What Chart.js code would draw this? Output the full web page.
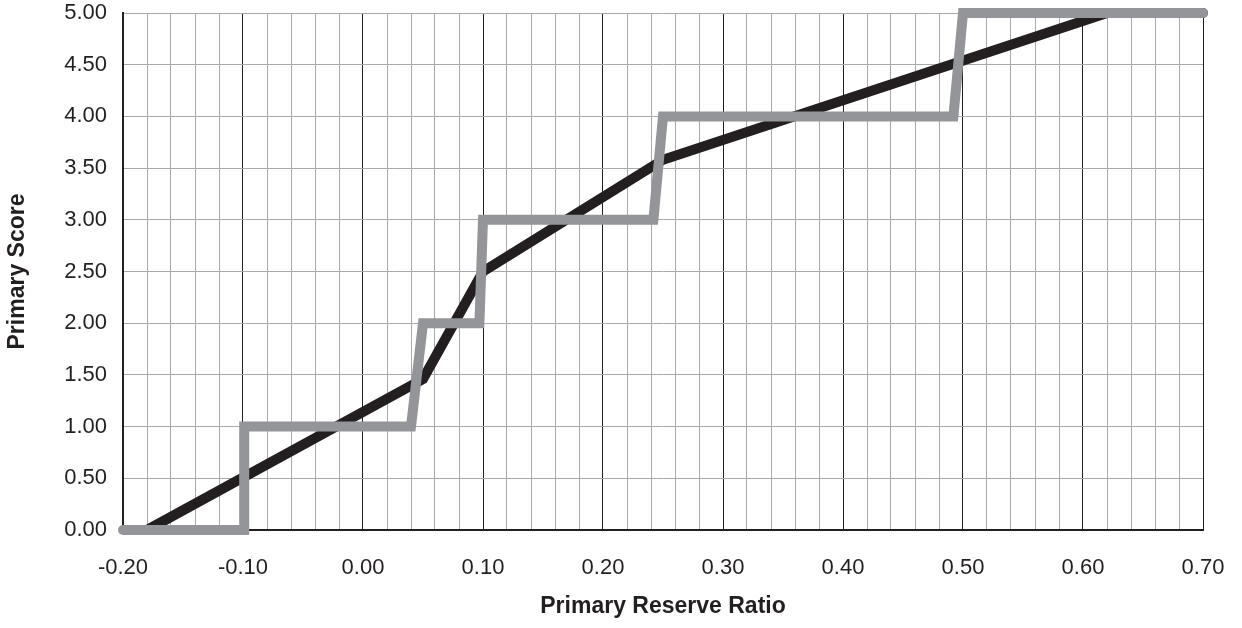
<!DOCTYPE html>
<html>
<head>
<meta charset="utf-8">
<script src="https://cdn.jsdelivr.net/npm/chart.js@4/dist/chart.umd.min.js"></script>
<style>
  html, body { margin: 0; padding: 0; background: #ffffff; }
  #wrap { width: 1242px; height: 628px; position: relative; }
</style>
</head>
<body>
<div id="wrap"><canvas id="c" width="1242" height="628"></canvas></div>
<script>
// Data
const scoreCurveX = [-0.18, 0.05, 0.10, 0.25, 0.62, 0.70];
const scoreCurveY = [0, 1.46, 2.5, 3.58, 5.0, 5.0];

const stepX = [-0.2, -0.099, -0.099, 0.04, 0.05, 0.097, 0.10, 0.242, 0.25, 0.492, 0.50, 0.70];
const stepY = [0, 0, 1, 1, 2, 2, 3, 3, 4, 4, 5, 5];

const xMin = -0.2, xMax = 0.7, xStep = 0.02;
const yMin = 0, yMax = 5, yStep = 0.5;

const xTitle = 'Primary Reserve Ratio';
const yTitle = 'Primary Score';

const toPts = (xs, ys) => xs.map((x, i) => ({ x: x, y: ys[i] }));

const DARK = '#231f20';
const GRID = '#a7a9ac';
const isMajor = v => Math.abs(v * 10 - Math.round(v * 10)) < 1e-6;

new Chart(document.getElementById('c'), {
  type: 'line',
  data: {
    datasets: [
      {
        data: toPts(stepX, stepY),
        borderColor: '#939598',
        borderWidth: 10,
        borderCapStyle: 'round',
        borderJoinStyle: 'miter',
        pointRadius: 0,
        tension: 0,
        fill: false,
        clip: false
      },
      {
        data: toPts(scoreCurveX, scoreCurveY),
        borderColor: DARK,
        borderWidth: 10,
        borderCapStyle: 'round',
        borderJoinStyle: 'miter',
        pointRadius: 0,
        tension: 0,
        fill: false,
        clip: false
      }
    ]
  },
  options: {
    responsive: false,
    animation: false,
    events: [],
    layout: { padding: { left: 0, top: 13, right: 39, bottom: 0 } },
    plugins: { legend: { display: false }, tooltip: { enabled: false } },
    scales: {
      x: {
        type: 'linear',
        min: xMin, max: xMax,
        afterFit: s => { s.height = 98; s.paddingLeft = 0; s.paddingRight = 0; },
        border: { display: true, color: DARK, width: 2 },
        grid: {
          drawTicks: false,
          lineWidth: 1,
          color: ctx => (ctx.tick && isMajor(ctx.tick.value)) ? DARK : GRID
        },
        ticks: {
          stepSize: xStep,
          maxTicksLimit: 100,
          autoSkip: false,
          maxRotation: 0,
          minRotation: 0,
          padding: 25,
          color: DARK,
          font: { family: '"Liberation Sans", Arial, sans-serif', size: 22 },
          callback: v => isMajor(v) ? (Math.abs(v) < 1e-9 ? '0.00' : v.toFixed(2)) : ''
        },
        title: {
          display: true,
          text: xTitle,
          color: DARK,
          font: { family: '"Liberation Sans", Arial, sans-serif', size: 23, weight: 'bold' },
          padding: { top: 0, bottom: 8 }
        }
      },
      y: {
        type: 'linear',
        min: yMin, max: yMax,
        afterFit: s => { s.width = 123; s.paddingTop = 0; s.paddingBottom = 0; },
        border: { display: true, color: DARK, width: 2 },
        grid: { drawTicks: false, lineWidth: 1, color: GRID },
        ticks: {
          stepSize: yStep,
          padding: 16,
          color: DARK,
          font: { family: '"Liberation Sans", Arial, sans-serif', size: 22 },
          callback: v => v.toFixed(2)
        },
        title: {
          display: true,
          text: yTitle,
          color: DARK,
          font: { family: '"Liberation Sans", Arial, sans-serif', size: 23, weight: 'bold' },
          padding: { top: 4, bottom: 0 }
        }
      }
    }
  }
});
</script>
</body>
</html>
